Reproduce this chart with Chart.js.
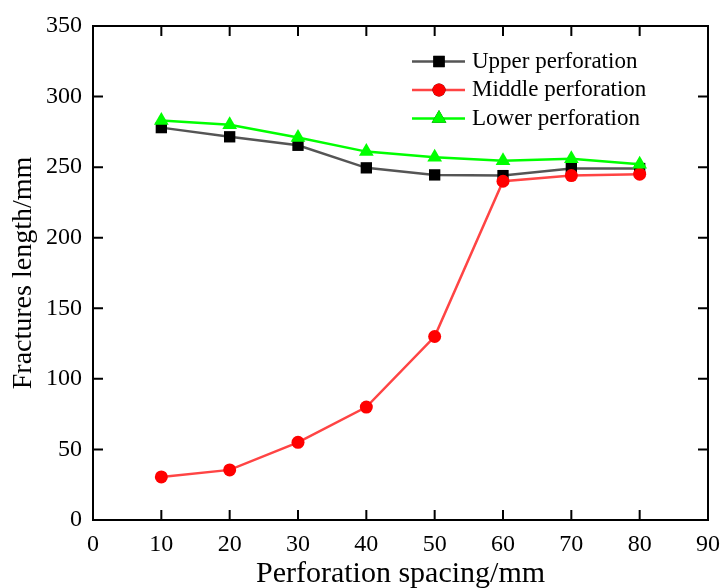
<!DOCTYPE html>
<html>
<head>
<meta charset="utf-8">
<script src="https://cdn.jsdelivr.net/npm/chart.js@4.4.0/dist/chart.umd.min.js"></script>
<style>
  html, body { margin: 0; padding: 0; background: #fff; }
  #wrap { width: 721px; height: 588px; }
</style>
</head>
<body>
<div id="wrap"><canvas id="mycanvas" width="721" height="588"></canvas></div>
<script>
var spacing = [10, 20, 30, 40, 50, 60, 70, 80];
var upperVals = [278, 271.5, 265.5, 249.5, 244.5, 244, 249, 249];
var middleVals = [30.5, 35.5, 55, 80, 130, 240, 244, 245];
var lowerVals = [283, 280, 271, 261, 257, 254.5, 256, 252];
var seriesNames = ['Upper perforation', 'Middle perforation', 'Lower perforation'];
var xTitle = 'Perforation spacing/mm';
var yTitle = 'Fractures length/mm';

var FONT = '"Liberation Serif", "Times New Roman", serif';

function pts(vals) {
	var out = [];
	for (var i in spacing) out.push({x: spacing[i], y: vals[i]});
	return out;
}

// ticks pointing inward on all four sides + top/right border
var frame = {
	id: 'frame',
	afterDraw: function(chart) {
		var ctx = chart.ctx, a = chart.chartArea;
		var xs = chart.scales.x, ys = chart.scales.y;
		ctx.save();
		ctx.strokeStyle = '#000';
		ctx.lineWidth = 2;
		ctx.beginPath();
		ctx.moveTo(a.left, a.top); ctx.lineTo(a.right, a.top);
		ctx.lineTo(a.right, a.bottom);
		xs.ticks.forEach(function(t) {
			var px = xs.getPixelForValue(t.value);
			ctx.moveTo(px, a.bottom); ctx.lineTo(px, a.bottom - 10);
			ctx.moveTo(px, a.top); ctx.lineTo(px, a.top + 10);
		});
		ys.ticks.forEach(function(t) {
			var py = ys.getPixelForValue(t.value);
			ctx.moveTo(a.left, py); ctx.lineTo(a.left + 10, py);
			ctx.moveTo(a.right, py); ctx.lineTo(a.right - 10, py);
		});
		ctx.stroke();

		// legend
		ctx.font = '23px ' + FONT;
		ctx.textBaseline = 'middle';
		ctx.fillStyle = '#000';
		chart.data.datasets.forEach(function(ds, i) {
			var y = 61.5 + i * 28.5;
			ctx.strokeStyle = ds.borderColor;
			ctx.lineWidth = 2.5;
			ctx.beginPath(); ctx.moveTo(412, y); ctx.lineTo(465, y); ctx.stroke();
			Chart.helpers.drawPoint(ctx, {pointStyle: ds.pointStyle, radius: ds.pointRadius, borderWidth: 0, rotation: 0}, 439, y);
			ctx.fillStyle = ds.pointBackgroundColor;
			ctx.fill();
			ctx.fillStyle = '#000';
			ctx.fillText(ds.label, 472, y);
		});
		ctx.restore();
	}
};

var chartdata = {
	datasets: [
		{
			label: seriesNames[0],
			data: pts(upperVals),
			borderColor: '#555555',
			borderWidth: 2.5,
			pointStyle: 'rect',
			pointRadius: 8,
			pointBackgroundColor: '#000000',
			pointBorderWidth: 0,
			order: 3
		},
		{
			label: seriesNames[1],
			data: pts(middleVals),
			borderColor: '#ff4444',
			borderWidth: 2.5,
			pointStyle: 'circle',
			pointRadius: 6.5,
			pointBackgroundColor: '#ff0000',
			pointBorderWidth: 0,
			order: 2
		},
		{
			label: seriesNames[2],
			data: pts(lowerVals),
			borderColor: '#00ff00',
			borderWidth: 2.5,
			pointStyle: 'triangle',
			pointRadius: 8.5,
			pointBackgroundColor: '#00ff00',
			pointBorderWidth: 0,
			order: 1
		}
	]
};

var ctx = document.getElementById('mycanvas');
var lineGraph = new Chart(ctx, {
	type: 'line',
	data: chartdata,
	plugins: [frame],
	options: {
		responsive: false,
		animation: false,
		devicePixelRatio: 1,
		layout: { padding: { left: 0, right: 0, top: 26, bottom: 0 } },
		plugins: { legend: { display: false }, tooltip: { enabled: false } },
		scales: {
			x: {
				type: 'linear', min: 0, max: 90,
				afterFit: function(s) { s.height = 68; s.paddingLeft = 0; s.paddingRight = 13; },
				grid: { display: true, drawOnChartArea: false, drawTicks: false },
				border: { display: true, color: '#000', width: 2 },
				ticks: { stepSize: 10, padding: 10, color: '#000', font: { family: FONT, size: 24 } },
				title: { display: true, text: xTitle, color: '#000', padding: 0, font: { family: FONT, size: 30, lineHeight: 0.9 } }
			},
			y: {
				min: 0, max: 350,
				afterFit: function(s) { s.width = 93; },
				grid: { display: true, drawOnChartArea: false, drawTicks: false },
				border: { display: true, color: '#000', width: 2 },
				ticks: { stepSize: 50, padding: 11, color: '#000', font: { family: FONT, size: 24 } },
				title: { display: true, text: yTitle, color: '#000', padding: { top: 11, bottom: 0 }, font: { family: FONT, size: 28, lineHeight: 0.9 } }
			}
		}
	}
});
</script>
</body>
</html>
